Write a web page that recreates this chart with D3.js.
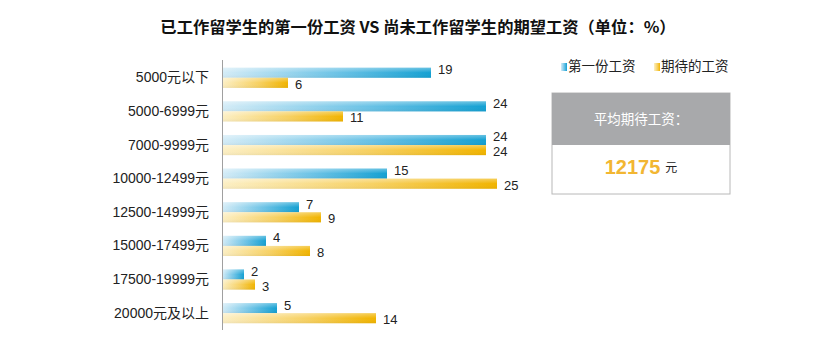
<!DOCTYPE html>
<html><head><meta charset="utf-8">
<script src="https://cdn.jsdelivr.net/npm/d3@7"></script>
<style>body{margin:0;background:#fff}svg{display:block}</style>
</head><body>
<script>
const categories = ["5000元以下","5000-6999元","7000-9999元","10000-12499元","12500-14999元","15000-17499元","17500-19999元","20000元及以上"];
const firstSalary = [19,24,24,15,7,4,2,5];
const expectedSalary = [6,11,24,25,9,8,3,14];
const seriesNames = ["第一份工资","期待的工资"];
const title = "已工作留学生的第一份工资 VS 尚未工作留学生的期望工资（单位：%）";
const avgLabel = "平均期待工资：";
const avgValue = "12175";
const avgUnit = "元";

const W = 830, H = 346;
const font = "'Liberation Sans', Arial, 'Noto Sans CJK SC', sans-serif";
const svg = d3.select("body").append("svg").attr("width", W).attr("height", H);
const defs = svg.append("defs");
function grad(id, c0, c1, c2) {
  const g = defs.append("linearGradient").attr("id", id).attr("x1","0").attr("x2","1").attr("y1","0").attr("y2","0");
  g.append("stop").attr("offset","0").attr("stop-color", c0);
  g.append("stop").attr("offset","0.55").attr("stop-color", c1);
  g.append("stop").attr("offset","1").attr("stop-color", c2);
}
grad("gBlue", "#d4ecf7", "#6cc3e6", "#14a0d2");
grad("gYellow", "#fcefc4", "#f7d163", "#f1b400");
const shine = defs.append("linearGradient").attr("id","gShine").attr("x1","0").attr("x2","0").attr("y1","0").attr("y2","1");
shine.append("stop").attr("offset","0").attr("stop-color","#fff").attr("stop-opacity",0.35);
shine.append("stop").attr("offset","0.5").attr("stop-color","#fff").attr("stop-opacity",0);
shine.append("stop").attr("offset","1").attr("stop-color","#000").attr("stop-opacity",0.05);

svg.append("text").attr("x", 418).attr("y", 33).attr("text-anchor","middle")
  .attr("font-family", "'Noto Sans CJK SC', sans-serif").attr("font-weight","bold")
  .attr("font-size", 16.3).attr("fill","#111").text(title);

const x = d3.scaleLinear().domain([0,25]).range([222,497]);
const y = d3.scaleBand().domain(categories).range([61,330]).paddingInner(0.4).paddingOuter(0.2);
const sub = d3.scaleBand().domain([0,1]).range([0, y.bandwidth()]);

const data = categories.map((c,i)=>({c, v:[firstSalary[i], expectedSalary[i]]}));
const groups = svg.append("g").selectAll("g").data(data).join("g")
  .attr("transform", d=>`translate(0,${y(d.c)})`);
[0,1].forEach(k=>{
  groups.append("rect").attr("x", x(0)).attr("y", sub(k)).attr("width", d=>x(d.v[k])-x(0))
    .attr("height", sub.bandwidth()).attr("fill", k===0?"url(#gBlue)":"url(#gYellow)");
  groups.append("rect").attr("x", x(0)).attr("y", sub(k)).attr("width", d=>x(d.v[k])-x(0))
    .attr("height", sub.bandwidth()).attr("fill", "url(#gShine)");
  groups.append("text").attr("x", d=>x(d.v[k])+7).attr("y", sub(k)+sub.bandwidth()/2 + (k===0?-2:2.5))
    .attr("dominant-baseline","middle").attr("font-family", font).attr("font-size", 13)
    .attr("fill","#222").text(d=>d.v[k]);
});

const yAxis = svg.append("g").attr("transform",`translate(${x(0)},0)`)
  .call(d3.axisLeft(y).tickSize(0).tickPadding(13));
yAxis.select(".domain").attr("stroke","#a0a0a0").attr("d","M0.5,60V330");
yAxis.selectAll("text").attr("font-family", font).attr("font-size", 14).attr("fill","#222");

// legend
const legend = svg.append("g");
const lx = [561, 654];
seriesNames.forEach((n,i)=>{
  legend.append("rect").attr("x", lx[i]).attr("y", 63).attr("width", 6).attr("height", 8)
    .attr("fill", i===0?"url(#gBlue)":"url(#gYellow)");
  legend.append("text").attr("x", lx[i]+7).attr("y", 67).attr("dominant-baseline","middle")
    .attr("font-family","'Noto Sans CJK SC', sans-serif").attr("font-size", 13.5).attr("fill","#222").text(n);
});

// average box
const bx = 552, bw = 178;
svg.append("rect").attr("x", bx).attr("y", 93).attr("width", bw).attr("height", 101)
  .attr("fill","#fff").attr("stroke","#b8b8b8");
svg.append("rect").attr("x", bx).attr("y", 93).attr("width", bw).attr("height", 52).attr("fill","#a8a9ab");
svg.append("text").attr("x", bx+bw/2).attr("y", 120).attr("text-anchor","middle").attr("dominant-baseline","middle")
  .attr("font-family","'Noto Sans CJK SC', sans-serif").attr("font-size", 13.5).attr("fill","#fff").text(avgLabel);
const t = svg.append("text").attr("x", bx+bw/2).attr("y", 169).attr("text-anchor","middle").attr("dominant-baseline","middle");
t.append("tspan").attr("font-family", font).attr("font-weight","bold").attr("font-size", 20).attr("fill","#f2b632").text(avgValue);
t.append("tspan").attr("dx", 5).attr("font-family","'Noto Sans CJK SC', sans-serif").attr("font-size", 12).attr("fill","#222").text(avgUnit);
</script>
</body></html>
